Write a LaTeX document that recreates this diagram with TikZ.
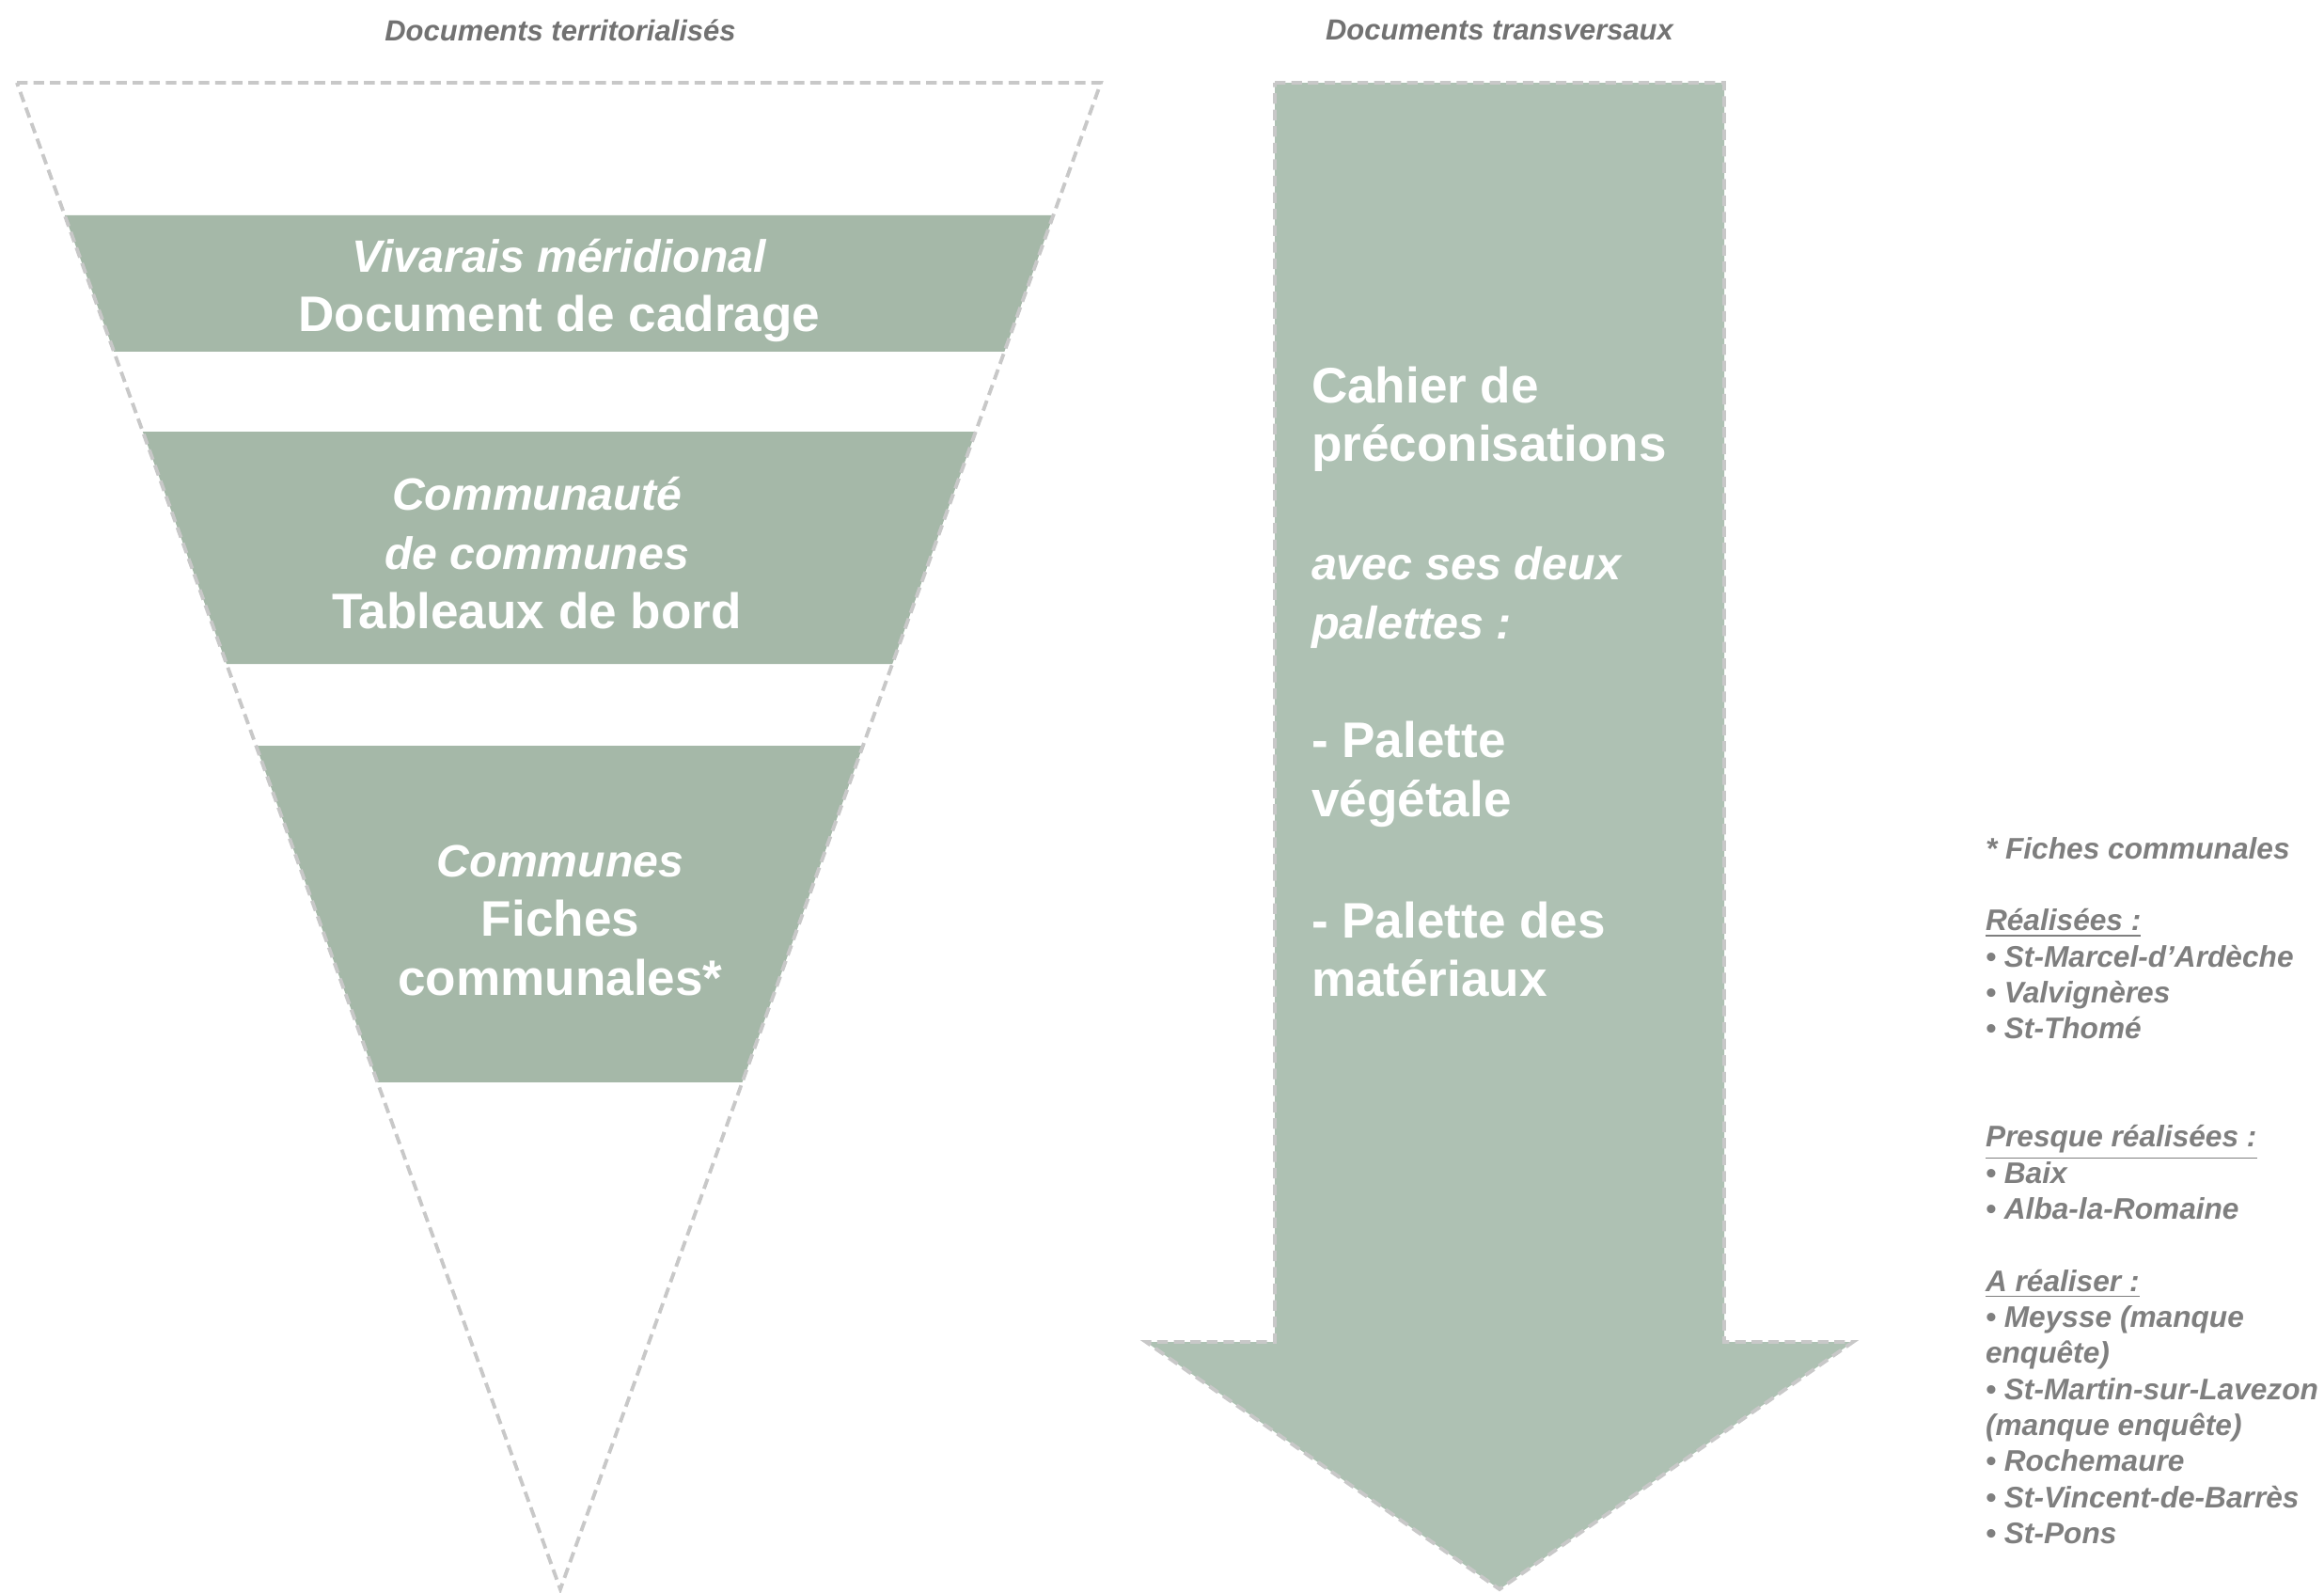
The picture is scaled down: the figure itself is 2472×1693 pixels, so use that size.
\documentclass[tikz,border=0pt]{standalone}
\usepackage{fontspec}
\setmainfont{Liberation Sans}
\usetikzlibrary{calc}
\definecolor{bandgreen}{HTML}{A5B8A8}
\definecolor{arrowgreen}{HTML}{AEC1B3}
\definecolor{guidegray}{HTML}{C8C8C8}
\definecolor{notegray}{HTML}{7F7F7F}

\begin{document}
\begin{tikzpicture}[x=0.01cm, y=-0.01cm, every node/.style={inner sep=0pt, outer sep=0pt},
	guide/.style={draw=guidegray, line width=1.1pt, dash pattern=on 3.2pt off 1.8pt},
	band/.style={fill=bandgreen},
	big/.style={text=white, font=\fontsize{15.1}{17.9}\selectfont\bfseries},
	head/.style={text=notegray!90!black, font=\fontsize{8.8}{10.9}\selectfont\bfseries\itshape},
	note/.style={text=notegray, font=\fontsize{9}{10.9}\selectfont\bfseries\itshape, align=left}]
				\useasboundingbox (0,0) rectangle (2472,1693);
				
				\coordinate (tl) at (18,88);
				\coordinate (tr) at (1171,88);
				\coordinate (tip) at (596,1690);
				
				\coordinate (s1) at (1356,88);
				\coordinate (s2) at (1834,88);
				\coordinate (s3) at (1834,1427);
				\coordinate (h1) at (1971,1427);
				\coordinate (h2) at (1595,1690);
				\coordinate (h3) at (1219,1427);
				\coordinate (s4) at (1356,1427);
				
				% bandes
				\fill[band] ($(tl)!0.088!(tip)$) -- ($(tr)!0.088!(tip)$) -- ($(tr)!0.1785!(tip)$) -- ($(tl)!0.1785!(tip)$) -- cycle;
				\fill[band] ($(tl)!0.2316!(tip)$) -- ($(tr)!0.2316!(tip)$) -- ($(tr)!0.3858!(tip)$) -- ($(tl)!0.3858!(tip)$) -- cycle;
				\fill[band] ($(tl)!0.4401!(tip)$) -- ($(tr)!0.4401!(tip)$) -- ($(tr)!0.6635!(tip)$) -- ($(tl)!0.6635!(tip)$) -- cycle;
				\path[guide] (tl) -- (tr) -- (tip) -- cycle;
				
				% fleche
				\path[guide, fill=arrowgreen] (s1) -- (s2) -- (s3) -- (h1) -- (h2) -- (h3) -- (s4) -- cycle;
				
				\node[head] (territ) at (596,32){Documents territorialisés};
				\node[head] (transv) at (1595,32){Documents transversaux};
				
				\node[big, align=center] (cadrage) at (595,309){\fontsize{13.7}{17.9}\selectfont\itshape Vivarais méridional\\ Document de cadrage};
				\node[big, align=center] (bord) at (571,588){\fontsize{13.7}{17.9}\selectfont\itshape Communauté\\ \fontsize{13.7}{17.9}\selectfont\itshape de communes\\ Tableaux de bord};
				\node[big, align=center] (fiches) at (596,979){\fontsize{13.7}{17.9}\selectfont\itshape Communes\\ Fiches\\ communales*};
				
				\node[big, align=left, anchor=west] (cahier) at (1395,725){Cahier de\\ préconisations\\[17.9pt] \fontsize{13.8}{17.9}\selectfont\itshape avec ses deux\\ \fontsize{13.8}{17.9}\selectfont\itshape palettes :\\[17.9pt] - Palette\\ végétale\\[18.6pt] - Palette des\\ matériaux};
				
				\node[note, anchor=west] (liste) at (2112,1266){* Fiches communales\\[10.9pt]
					\underline{Réalisées :}\\
					• St-Marcel-d’Ardèche\\
					• Valvignères\\
					• St-Thomé\\[21.8pt]
					\underline{Presque réalisées :}\\
					• Baix\\
					• Alba-la-Romaine\\[10.9pt]
					\underline{A réaliser :}\\
					• Meysse (manque\\
					enquête)\\
					• St-Martin-sur-Lavezon\\
					(manque enquête)\\
					• Rochemaure\\
					• St-Vincent-de-Barrès\\
					• St-Pons};
\end{tikzpicture}
\end{document}
